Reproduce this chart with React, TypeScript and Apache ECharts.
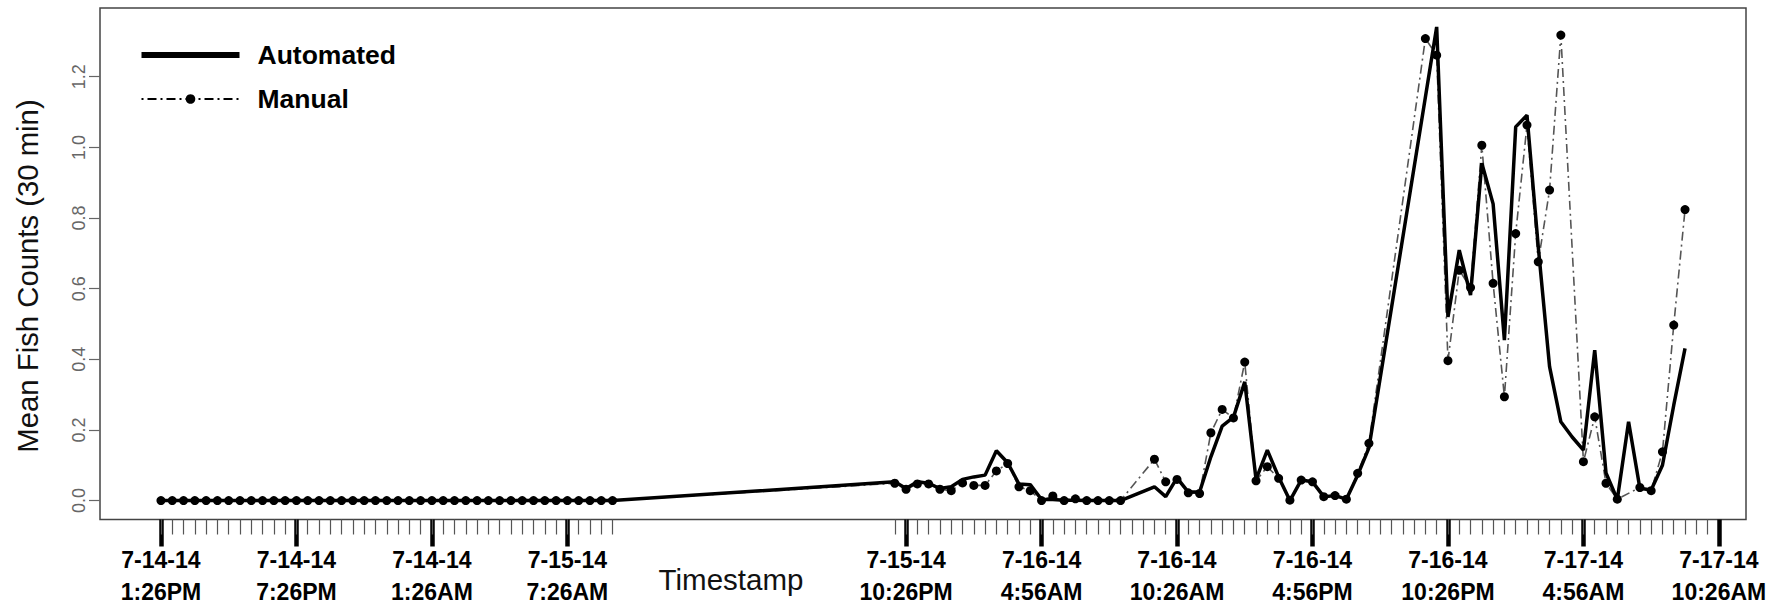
import React, { useEffect, useRef } from "react";
import * as echarts from "echarts";

// x positions are half-hour slots counted from 7-14-14 1:26PM
const slots: number[] = [
  0, 1, 2, 3, 4, 5, 6, 7, 8, 9, 10, 11, 12, 13, 14, 15, 16, 17, 18, 19, 20,
  21, 22, 23, 24, 25, 26, 27, 28, 29, 30, 31, 32, 33, 34, 35, 36, 37, 38, 39, 40,
  65, 66, 67, 68, 69, 70, 71, 72, 73, 74, 75, 76, 77, 78, 79, 80, 81, 82, 83, 84, 85,
  88, 89, 90, 91, 92, 93, 94, 95, 96, 97, 98, 99, 100, 101, 102, 103, 104, 105, 106, 107,
  112, 113, 114, 115, 116, 117, 118, 119, 120, 121, 122, 123, 124, 125, 126, 127, 128,
  129, 130, 131, 132, 133, 134, 135,
];

const automated: (number | null)[] = [
  0, 0, 0, 0, 0, 0, 0, 0, 0, 0, 0, 0, 0, 0, 0, 0, 0, 0, 0, 0, 0,
  0, 0, 0, 0, 0, 0, 0, 0, 0, 0, 0, 0, 0, 0, 0, 0, 0, 0, 0, 0,
  0.053, 0.034, 0.053, 0.049, 0.034, 0.039, 0.06, 0.067, 0.072, 0.141, 0.107, 0.047,
  0.045, 0.003, 0.003, 0.001, 0.001, 0.0, 0.0, 0.0, 0.0,
  0.039, 0.011, 0.064, 0.024, 0.024, 0.124, 0.211, 0.236, 0.336, 0.06, 0.143, 0.067,
  0.0, 0.058, 0.053, 0.011, 0.014, 0.004, 0.072, 0.149,
  1.142, 1.341, 0.52, 0.709, 0.582, 0.955, 0.84, 0.454, 1.058, 1.091, 0.718, 0.379,
  0.223, 0.18, 0.143, 0.426, 0.078, 0.003, 0.223, 0.035, 0.03, 0.1, 0.27, 0.431,
];

const manual: (number | null)[] = [
  0, 0, 0, 0, 0, 0, 0, 0, 0, 0, 0, 0, 0, 0, 0, 0, 0, 0, 0, 0, 0,
  0, 0, 0, 0, 0, 0, 0, 0, 0, 0, 0, 0, 0, 0, 0, 0, 0, 0, 0, 0,
  0.049, 0.032, 0.047, 0.047, 0.032, 0.028, 0.05, 0.043, 0.043, 0.084, 0.105, 0.039,
  0.028, 0.0, 0.013, 0.0, 0.005, 0.0, 0.0, 0.0, 0.0,
  0.117, 0.053, 0.06, 0.022, 0.02, 0.192, 0.258, 0.234, 0.392, 0.056, 0.096, 0.063,
  0.001, 0.058, 0.053, 0.011, 0.014, 0.004, 0.077, 0.162,
  1.308, 1.261, 0.396, 0.652, 0.603, 1.006, 0.615, 0.294, 0.756, 1.063, 0.676, 0.879,
  1.318, null, 0.11, 0.237, 0.049, 0.004, null, 0.037, 0.028, 0.138, 0.497, 0.824,
];

const majorTickSlots: number[] = [0, 12, 24, 36, 66, 78, 90, 102, 114, 126, 138];
const majorTickLabels: string[] = [
  "7-14-14\n1:26PM",
  "7-14-14\n7:26PM",
  "7-14-14\n1:26AM",
  "7-15-14\n7:26AM",
  "7-15-14\n10:26PM",
  "7-16-14\n4:56AM",
  "7-16-14\n10:26AM",
  "7-16-14\n4:56PM",
  "7-16-14\n10:26PM",
  "7-17-14\n4:56AM",
  "7-17-14\n10:26AM",
];
const minorTickSlots: number[] = [
  0, 1, 2, 3, 4, 5, 6, 7, 8, 9, 10, 11, 12, 13, 14, 15, 16, 17, 18, 19, 20,
  21, 22, 23, 24, 25, 26, 27, 28, 29, 30, 31, 32, 33, 34, 35, 36, 37, 38, 39, 40,
  65, 66, 67, 68, 69, 70, 71, 72, 73, 74, 75, 76, 77, 78, 79, 80, 81, 82, 83, 84, 85,
  86, 87, 88, 89, 90, 91, 92, 93, 94, 95, 96, 97, 98, 99, 100, 101, 102, 103, 104,
  105, 106, 107, 108, 109, 110, 111, 112, 113, 114, 115, 116, 117, 118, 119, 120,
  121, 122, 123, 124, 125, 126, 127, 128, 129, 130, 131, 132, 133, 134, 135, 136, 137,
];
const yTickValues: number[] = [0, 0.2, 0.4, 0.6, 0.8, 1.0, 1.2];

const FONT = "'Liberation Sans', Arial, Helvetica, sans-serif";

export default function App() {
  const ref = useRef<HTMLDivElement>(null);

  useEffect(() => {
    if (!ref.current) return;
    const chart = echarts.init(ref.current, undefined, { renderer: "svg" });

    const autoData = slots.map((s, i) => [s, automated[i] === null ? "-" : automated[i]]);
    const manualData = slots.map((s, i) => [s, manual[i] === null ? "-" : manual[i]]);

    const option: any = {
      animation: false,
      backgroundColor: "#ffffff",
      textStyle: { fontFamily: FONT },
      grid: {
        left: 100,
        top: 8,
        width: 1646,
        height: 511.5,
        show: true,
        borderColor: "#444",
        borderWidth: 1.5,
        backgroundColor: "transparent",
      },
      legend: {
        show: true,
        orient: "vertical",
        left: 138.5,
        top: 41,
        padding: 0,
        itemWidth: 98,
        itemHeight: 12,
        itemGap: 16,
        selectedMode: false,
        data: [
          { name: "Automated", itemStyle: { opacity: 0 }, lineStyle: { width: 6, color: "#000" } },
          { name: "Manual", lineStyle: { width: 2, color: "#000" } },
        ],
        textStyle: {
          fontFamily: FONT,
          fontSize: 26.5,
          fontWeight: "bold",
          color: "#000",
          lineHeight: 28,
          padding: [0, 0, 0, 13],
        },
      },
      xAxis: [
        {
          type: "value",
          min: -5.4,
          max: 140.4,
          axisLine: { show: false, onZero: false },
          splitLine: { show: false },
          axisTick: {
            show: true,
            customValues: majorTickSlots,
            length: 27,
            lineStyle: { color: "#000", width: 4.5 },
          },
          axisLabel: {
            show: true,
            customValues: majorTickSlots,
            formatter: (v: number) => {
              const i = majorTickSlots.indexOf(v);
              return i >= 0 ? majorTickLabels[i] : "";
            },
            margin: 24,
            fontFamily: FONT,
            fontSize: 23,
            fontWeight: "bold",
            lineHeight: 32,
            color: "#000",
            hideOverlap: false,
          },
        },
        {
          type: "value",
          min: -5.4,
          max: 140.4,
          position: "bottom",
          axisLine: { show: false, onZero: false },
          splitLine: { show: false },
          axisTick: {
            show: true,
            customValues: minorTickSlots,
            length: 15,
            lineStyle: { color: "#555", width: 1.2 },
          },
          axisLabel: { show: false },
        },
      ],
      yAxis: {
        type: "value",
        min: -0.0536,
        max: 1.3946,
        axisLine: { show: false, onZero: false },
        splitLine: { show: false },
        axisTick: {
          show: true,
          customValues: yTickValues,
          length: 11,
          lineStyle: { color: "#666", width: 1.2 },
        },
        axisLabel: {
          show: true,
          customValues: yTickValues,
          rotate: 90,
          formatter: (v: number) => v.toFixed(1),
          fontFamily: FONT,
          fontSize: 18,
          color: "#666",
          margin: 12,
        },
      },
      series: [
        {
          name: "Manual",
          type: "line",
          xAxisIndex: 0,
          data: manualData,
          connectNulls: true,
          symbol: "circle",
          symbolSize: 9,
          itemStyle: { color: "#000" },
          lineStyle: { color: "#555", width: 1.6, type: [2, 4, 9, 4] },
          z: 2,
        },
        {
          name: "Automated",
          type: "line",
          xAxisIndex: 0,
          data: autoData,
          connectNulls: true,
          symbol: "none",
          itemStyle: { color: "#000" },
          lineStyle: { color: "#000", width: 3.5 },
          z: 3,
        },
      ],
      graphic: [
        {
          type: "text",
          x: 27,
          y: 276,
          rotation: Math.PI / 2,
          style: {
            text: "Mean Fish Counts (30 min)",
            fontFamily: FONT,
            fontSize: 29.3,
            fill: "#111",
            textAlign: "center",
            textVerticalAlign: "middle",
          },
        },
        {
          type: "text",
          x: 731,
          y: 579,
          style: {
            text: "Timestamp",
            fontFamily: FONT,
            fontSize: 29.5,
            fill: "#111",
            textAlign: "center",
            textVerticalAlign: "middle",
          },
        },
      ],
    };

    chart.setOption(option);
    return () => chart.dispose();
  }, []);

  return (
    <div
      ref={ref}
      style={{ position: "fixed", left: 0, top: 0, width: 1792, height: 609, background: "#fff" }}
    />
  );
}
